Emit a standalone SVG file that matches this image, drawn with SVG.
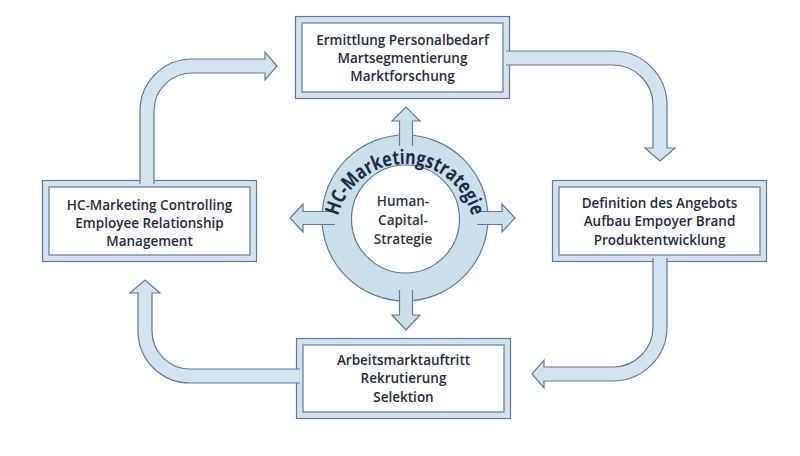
<svg xmlns="http://www.w3.org/2000/svg" width="800" height="456" viewBox="0 0 800 456">
<style>
.frame{fill:#d5e3ee;stroke:#5f7b91;stroke-width:1.2}
.inner{fill:#ffffff;stroke:#5f7b91;stroke-width:1.2}
.arrow{fill:#d5e3ee;stroke:#5f7b91;stroke-width:1.2;stroke-linejoin:miter}
.ring{fill:#cbe1ea;stroke:#5f7b91;stroke-width:1.2}
.rarrow{fill:#cbe1ea;stroke:#5f7b91;stroke-width:1.2}
.lbl{font-family:"Open Sans","Liberation Sans",sans-serif;font-weight:600;font-size:13.5px;fill:#1f2b3e;text-anchor:middle}
.ctr{font-family:"Open Sans","Liberation Sans",sans-serif;font-weight:600;font-size:13.5px;fill:#2b3445;text-anchor:middle}
.arc{font-family:"Open Sans","Liberation Sans",sans-serif;font-weight:700;font-size:20px;fill:#1c2a48}
</style>
<defs>
<path id="textArc" d="M 337.05 244.98 A 69 69 0 1 1 472.95 244.98"/>
</defs>
<rect width="800" height="456" fill="#ffffff"/>

<g id="node-top">
<rect class="frame" x="295.5" y="16.5" width="214" height="82"/>
<rect class="inner" x="302" y="23" width="201" height="69"/>
<text class="lbl" x="402.5" y="45">Ermittlung Personalbedarf</text>
<text class="lbl" x="402.5" y="63">Martsegmentierung</text>
<text class="lbl" x="402.5" y="81">Marktforschung</text>
</g>

<g id="node-right">
<rect class="frame" x="552.5" y="180.5" width="214" height="81"/>
<rect class="inner" x="559" y="187" width="201" height="68"/>
<text class="lbl" x="659.5" y="208">Definition des Angebots</text>
<text class="lbl" x="659.5" y="226">Aufbau Empoyer Brand</text>
<text class="lbl" x="659.5" y="245">Produktentwicklung</text>
</g>

<g id="node-bottom">
<rect class="frame" x="296.5" y="338.5" width="214" height="80"/>
<rect class="inner" x="303" y="345" width="201" height="67"/>
<text class="lbl" x="403.5" y="365">Arbeitsmarktauftritt</text>
<text class="lbl" x="403.5" y="383">Rekrutierung</text>
<text class="lbl" x="403.5" y="402">Selektion</text>
</g>

<g id="node-left">
<rect class="frame" x="42.5" y="180.5" width="214" height="81"/>
<rect class="inner" x="49" y="187" width="201" height="68"/>
<text class="lbl" x="149.5" y="210">HC-Marketing Controlling</text>
<text class="lbl" x="149.5" y="228">Employee Relationship</text>
<text class="lbl" x="149.5" y="246">Management</text>
</g>

<g id="node-center">
<circle class="ring" cx="405" cy="218" r="83"/>
<path class="rarrow" d="M 399.5 146 V 121 H 392 L 406 107 L 420 121 H 412.5 V 146"/>
<path class="rarrow" d="M 399.5 290 V 315 H 392 L 406 330 L 420 315 H 412.5 V 290"/>
<path class="rarrow" d="M 335 211.5 H 303 V 204 L 290 218 L 303 232 V 224.5 H 335"/>
<path class="rarrow" d="M 477 211.5 H 502 V 204 L 515 218 L 502 232 V 224.5 H 477"/>
<circle class="inner" cx="405.5" cy="219" r="54"/>
<text class="arc"><textPath href="#textArc" startOffset="50%" text-anchor="middle" textLength="182" lengthAdjust="spacingAndGlyphs">HC-Marketingstrategie</textPath></text>
<text class="ctr" x="403" y="206">Human-</text>
<text class="ctr" x="403" y="225">Capital-</text>
<text class="ctr" x="403" y="244">Strategie</text>
</g>

<g id="connectors">
<path class="arrow" d="M 506 51 H 613 A 54 54 0 0 1 667 105 V 148 H 675 L 660 161 L 645 148 H 653 V 105 A 40 40 0 0 0 613 65 H 506"/>
<path class="arrow" d="M 667 258 V 327 A 54 54 0 0 1 613 381 H 544 V 388 L 532 374 L 544 360 V 367 H 613 A 40 40 0 0 0 653 327 V 258"/>
<path class="arrow" d="M 300 369 H 190 A 38 38 0 0 1 152 331 V 293 H 160 L 145 280 L 130 293 H 138 V 331 A 52 52 0 0 0 190 383 H 300"/>
<path class="arrow" d="M 140 184 V 111 A 52 52 0 0 1 192 59 H 265 V 52 L 277 66 L 265 80 V 73 H 192 A 38 38 0 0 0 154 111 V 184"/>
</g>
</svg>
